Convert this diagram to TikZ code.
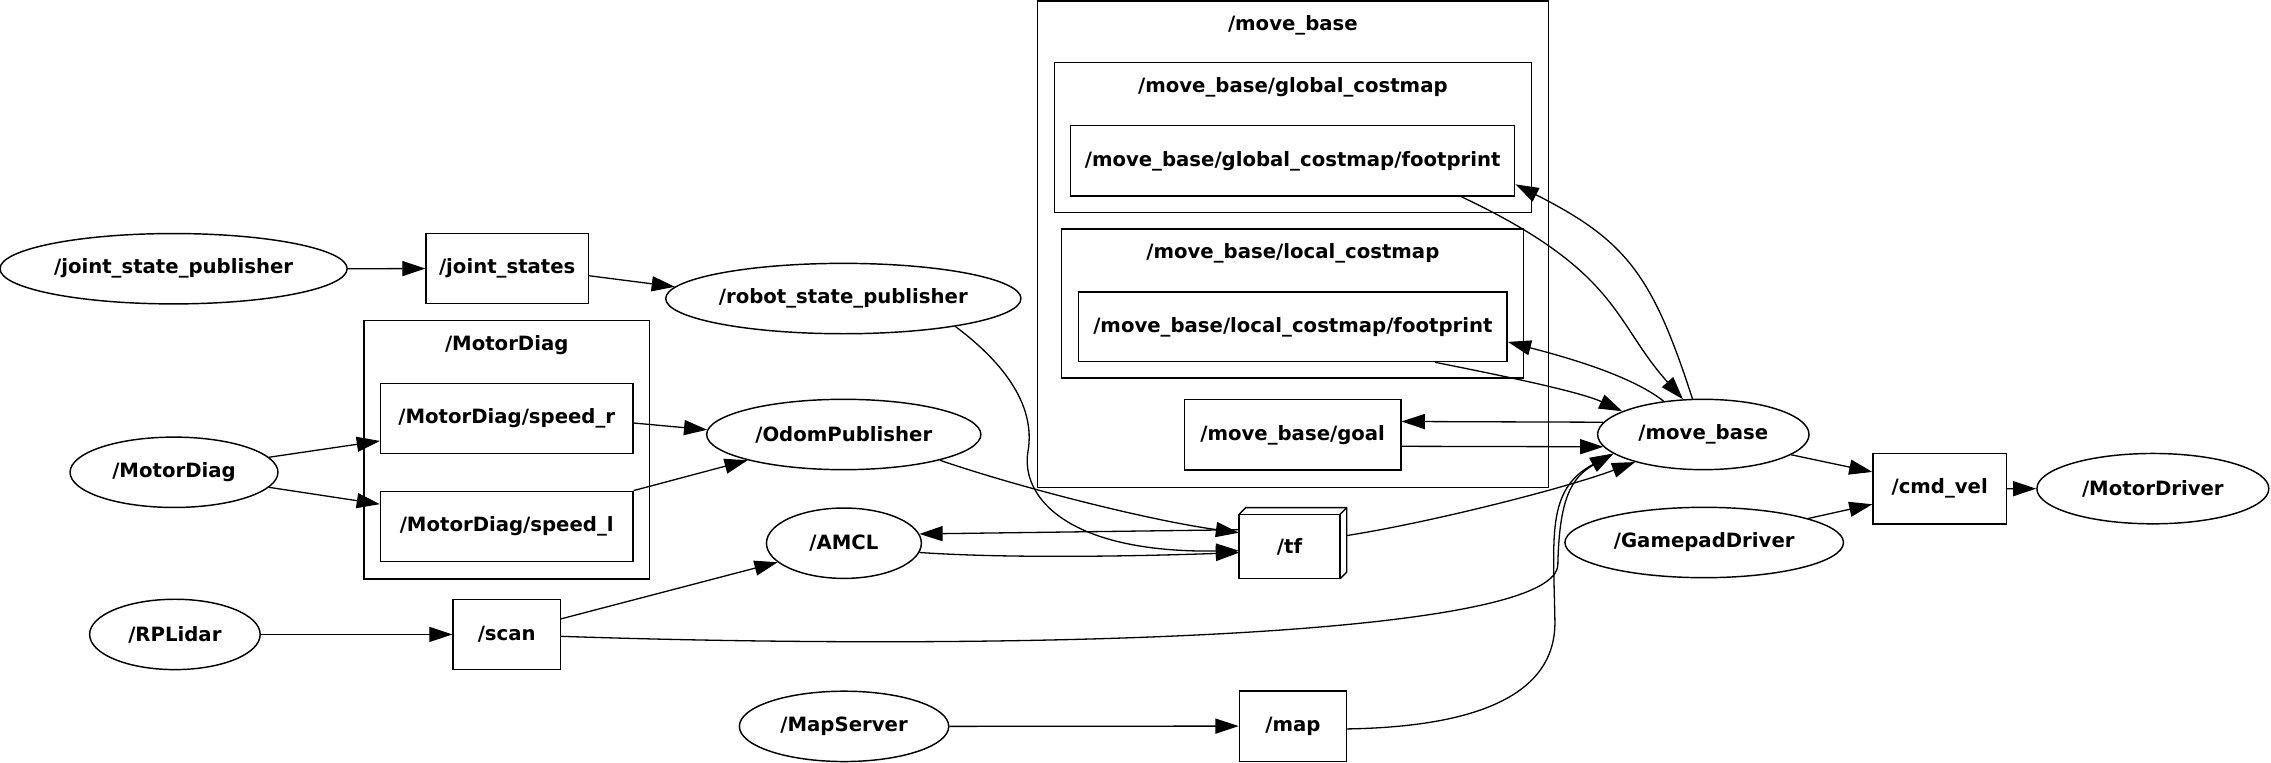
\documentclass[tikz,border=0pt]{standalone}
\usepackage{fontspec}
\setmainfont{DejaVu Sans}
\usetikzlibrary{shapes.geometric,arrows.meta,calc}
\begin{document}
\begin{tikzpicture}[x=0.5pt,y=-0.5pt,
  every node/.style={font=\fontsize{6.8pt}{8pt}\selectfont\bfseries, inner sep=0pt},
  ell/.style={draw, ellipse, line width=0.5pt, minimum height=24.3pt},
  box/.style={draw, rectangle, line width=0.5pt, minimum height=24.3pt},
  clus/.style={draw, rectangle, line width=0.5pt},
  arr/.style={line width=0.45pt, -{Triangle[length=8pt,width=5.2pt]}},
]
\useasboundingbox (0,0) rectangle (1568.6,527);

% clusters
\node[clus, minimum width=176.35pt, minimum height=168pt] (clmb) at (893.05,168.6) {};
\node[clus, minimum width=164.85pt, minimum height=51.8pt] (clg) at (893.05,94.8) {};
\node[clus, minimum width=159.55pt, minimum height=51.55pt] (cll) at (892.85,209.65) {};
\node[clus, minimum width=98.65pt, minimum height=89.2pt] (clmd) at (350.15,310.6) {};
\node (lblmb) at (893,17.3) {/move\_base};
\node (lblg) at (893,60.3) {/move\_base/global\_costmap};
\node (lbll) at (893,174.9) {/move\_base/local\_costmap};
\node (lblmd) at (350,238.2) {/MotorDiag};

% ellipses
\node[ell, minimum width=119.9pt] (jsp) at (119.9,185.6) {/joint\_state\_publisher};
\node[ell, minimum width=122.7pt] (rsp) at (582.5,206.2) {/robot\_state\_publisher};
\node[ell, minimum width=71.8pt] (mdn) at (120.2,326.2) {/MotorDiag};
\node[ell, minimum width=94.7pt] (odom) at (582.8,300.1) {/OdomPublisher};
\node[ell, minimum width=53.5pt] (amcl) at (582.9,375.2) {/AMCL};
\node[ell, minimum width=58.9pt] (rpl) at (120.8,438.2) {/RPLidar};
\node[ell, minimum width=72.3pt] (ms) at (583,501.7) {/MapServer};
\node[ell, minimum width=73pt] (mb) at (1176.5,300.1) {/move\_base};
\node[ell, minimum width=96.2pt] (gp) at (1177.1,374.7) {/GamepadDriver};
\node[ell, minimum width=80.1pt] (mdr) at (1487,337.5) {/MotorDriver};

% boxes
\node[box, minimum width=56pt] (js) at (350.35,185.5) {/joint\_states};
\node[box, minimum width=87.1pt] (spr) at (350,289.1) {/MotorDiag/speed\_r};
\node[box, minimum width=87.1pt] (spl) at (350,363.65) {/MotorDiag/speed\_l};
\node[box, minimum width=37pt] (scan) at (350,438.2) {/scan};
\node[box, minimum width=37pt] (map) at (893,501.5) {/map};
\node[box, minimum width=153.35pt] (gfp) at (892.85,111.15) {/move\_base/global\_costmap/footprint};
\node[box, minimum width=148pt, minimum height=23.95pt] (lfp) at (893,225.75) {/move\_base/local\_costmap/footprint};
\node[box, minimum width=74.75pt] (goal) at (892.85,300.35) {/move\_base/goal};
\node[box, minimum width=46pt] (cmd) at (1339.75,337.55) {/cmd\_vel};

% tf as box3d
\node[rectangle, minimum width=36.8pt, minimum height=24.15pt] (tf) at (893,375.15) {};
\draw[line width=0.5pt] (tf.south west) rectangle ($(tf.north east)+(-4.6,4.6)$);
\draw[line width=0.5pt] ($(tf.north west)+(0,4.6)$) -- ($(tf.north west)+(4.6,0)$) -- (tf.north east) -- ($(tf.south east)+(0,-4.6)$) -- ($(tf.south east)+(-4.6,0)$);
\draw[line width=0.5pt] ($(tf.north east)+(-4.6,4.6)$) -- (tf.north east);
\node (tflbl) at (890.7,377.5) {/tf};

% edges
\draw[arr] (jsp.east) -- (js.west);
\draw[arr] (js.-5) -- (rsp.176);
\draw[arr] (mdn.9.5) -- (spr.-170.4);
\draw[arr] (mdn.-9.6) -- (spl.170.2);
\draw[arr] (spr.-2.9) -- (odom.178.2);
\draw[arr] (spl.north east) -- (odom.-165.1);
\draw[arr] (rsp.-14.8) .. controls (690,248) and (716,278) .. (710,312) .. controls (705,342) and (735,382) .. (tf.-172.8);
\draw[arr] (odom.-15.3) .. controls (706.7,337.6) and (796,359.8) .. (tf.169.3);
\draw[arr] (tf.166) -- (amcl.7.8);
\draw[arr] (amcl.-7.4) .. controls (700,386) and (790,384) .. (tf.-170.5);
\draw[arr] (tf.8.9) .. controls (989.8,360.5) and (1082.6,336.8) .. (mb.-158.1);
\draw[arr] (scan.-2.2) .. controls (700,450) and (1075,440) .. (1076,390) .. controls (1077,345) and (1085,330) .. (mb.-168.3);
\draw[arr] (map.-3.9) .. controls (1020,502) and (1074,480) .. (1074,430) .. controls (1073,370) and (1068,338) .. (mb.-168.8);
\draw[arr] (goal.-6.1) -- (mb.-173.9);
\draw[arr] (mb.173.2) -- (goal.7.1);
\draw[arr] (mb.107.3) .. controls (1141.3,189.5) and (1122.9,165.9) .. (gfp.-6.1);
\draw[arr] (gfp.-12.8) .. controls (1119.2,187.8) and (1114.2,222.1) .. (mb.120.4);
\draw[arr] (mb.140.3) .. controls (1125,258) and (1075,245) .. (lfp.-4.3);
\draw[arr] (lfp.-14.3) .. controls (1030,258) and (1090,270) .. (mb.164.6);
\draw[arr] (mb.-13) -- (cmd.166.8);
\draw[arr] (gp.13.3) -- (cmd.-167.8);
\draw[arr] (cmd.east) -- (mdr.west);
\draw[arr] (rpl.east) -- (scan.west);
\draw[arr] (scan.16) -- (amcl.-164.8);
\draw[arr] (ms.east) -- (map.west);
\end{tikzpicture}
\end{document}
